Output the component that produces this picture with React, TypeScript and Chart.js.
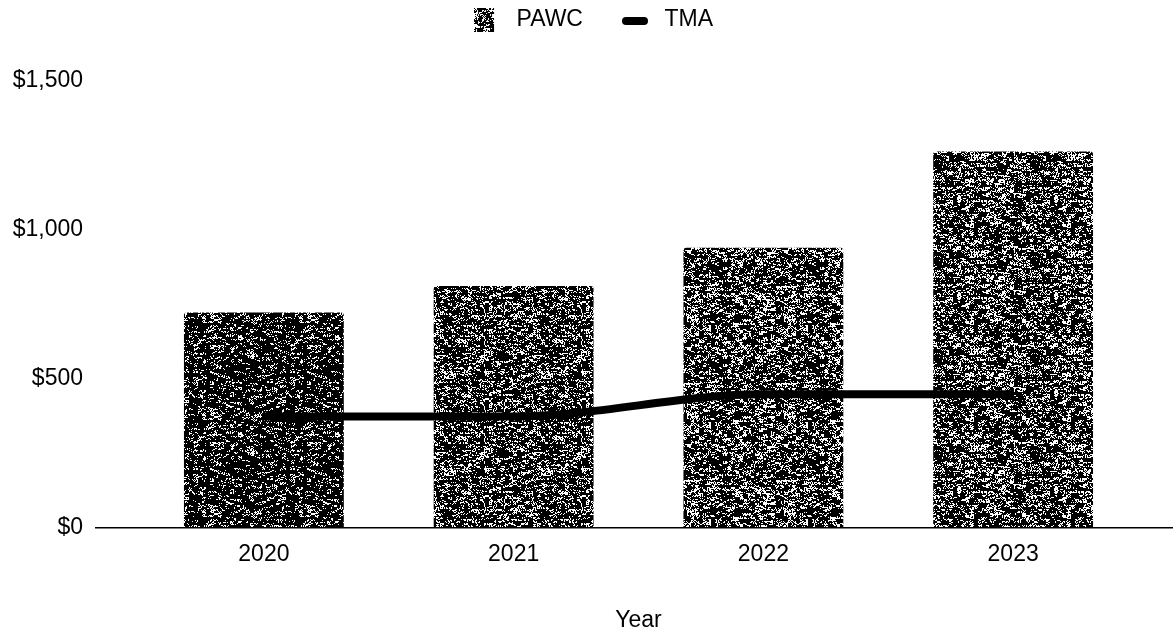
import React, { useEffect, useRef } from 'react';
import { Chart, registerables } from 'chart.js';

Chart.register(...registerables);

const years = ['2020', '2021', '2022', '2023'];
const pawcValues = [723, 812, 940, 1263];
const tmaValues = [374, 374, 448, 448];
const yTickValues = [0, 500, 1000, 1500];
const seriesNames = ['PAWC', 'TMA'];
const xTitle = 'Year';

const barDensity = [0.82, 0.72, 0.7, 0.72];

function hash(x: number, y: number, seed: number) {
  let h = (Math.imul(x, 374761393) + Math.imul(y, 668265263) + Math.imul(seed, 1442695041)) | 0;
  h = Math.imul(h ^ (h >>> 13), 1274126177);
  h = h ^ (h >>> 16);
  return (h >>> 0) / 4294967296;
}

function makeTexture(density: number, seed: number, w = 97, h = 97) {
  const c = document.createElement('canvas');
  c.width = w;
  c.height = h;
  const ctx = c.getContext('2d')!;
  const img = ctx.createImageData(w, h);
  const t = density <= 0.5 ? Math.sqrt(density / 2) : 1 - Math.sqrt((1 - density) / 2);
  for (let y = 0; y < h; y++) {
    for (let x = 0; x < w; x++) {
      const v = 0.5 * hash(x, y, seed) + 0.5 * hash(x >> 2, y >> 1, seed + 7);
      const c0 = v < t ? 0 : 255;
      const i = (y * w + x) * 4;
      img.data[i] = c0;
      img.data[i + 1] = c0;
      img.data[i + 2] = c0;
      img.data[i + 3] = 255;
    }
  }
  ctx.putImageData(img, 0, 0);
  return c;
}

export default function App() {
  const ref = useRef<HTMLCanvasElement | null>(null);

  useEffect(() => {
    if (!ref.current) return;
    Chart.defaults.font.family = '"Liberation Sans", Arial, sans-serif';
    Chart.defaults.color = '#000';

    const patterns = barDensity.map((d, i) => {
      const tex = makeTexture(d, 11 + i * 5);
      return ref.current!.getContext('2d')!.createPattern(tex, 'repeat')!;
    });

    // legend icons
    const pawcIcon = document.createElement('canvas');
    pawcIcon.width = 31;
    pawcIcon.height = 24;
    {
      const ictx = pawcIcon.getContext('2d')!;
      const tex = makeTexture(0.65, 3, 20, 24);
      ictx.drawImage(tex, 0, 0);
    }
    const tmaIcon = document.createElement('canvas');
    tmaIcon.width = 31;
    tmaIcon.height = 24;
    {
      const ictx = tmaIcon.getContext('2d')!;
      ictx.strokeStyle = '#000';
      ictx.lineWidth = 8;
      ictx.lineCap = 'round';
      ictx.beginPath();
      ictx.moveTo(4, 13);
      ictx.lineTo(22, 13);
      ictx.stroke();
    }

    const legendSpacer = {
      id: 'legendSpacer',
      beforeLayout(chart: any) {
        const lg = chart.legend;
        if (lg && !lg._spacerPatched) {
          const origFit = lg.fit;
          lg.fit = function () {
            origFit.call(this);
            this.height += 39.5;
          };
          const origDraw = lg.draw;
          lg.draw = function () {
            const c = this.ctx;
            c.save();
            c.translate(19.5, 0);
            origDraw.call(this);
            c.restore();
          };
          lg._spacerPatched = true;
        }
      },
    };

    const baseline = {
      id: 'baseline',
      afterDatasetsDraw(chart: any) {
        const { ctx, chartArea, scales } = chart;
        const y = scales.y.getPixelForValue(0);
        ctx.save();
        ctx.strokeStyle = '#000';
        ctx.lineWidth = 1.6;
        ctx.beginPath();
        ctx.moveTo(chartArea.left - 44, y);
        ctx.lineTo(chart.width, y);
        ctx.stroke();
        ctx.restore();
      },
    };

    const chart = new Chart(ref.current, {
      type: 'bar',
      data: {
        labels: years,
        datasets: [
          {
            type: 'bar',
            label: seriesNames[0],
            data: pawcValues,
            backgroundColor: patterns as any,
            borderWidth: 0,
            borderRadius: 3,
            categoryPercentage: 0.8,
            barPercentage: 0.8,
            order: 1,
          },
          {
            type: 'line',
            label: seriesNames[1],
            data: tmaValues,
            borderColor: '#000',
            backgroundColor: '#000',
            borderWidth: 8,
            pointRadius: 0,
            cubicInterpolationMode: 'monotone',
            order: 0,
          } as any,
        ],
      },
      options: {
        animation: false,
        responsive: true,
        maintainAspectRatio: false,
        layout: { padding: { left: 10, right: 35, top: -30.5, bottom: 1 } },
        plugins: {
          tooltip: { enabled: false },
          legend: {
            position: 'top',
            labels: {
              color: '#000',
              font: { size: 23 },
              usePointStyle: true,
              pointStyleWidth: 31,
              padding: 39,
              generateLabels: (chart: any) => {
                const items = (Chart.defaults.plugins.legend.labels as any).generateLabels(chart);
                items.sort((a: any, b: any) => a.datasetIndex - b.datasetIndex);
                items.forEach((it: any) => {
                  it.pointStyle = it.datasetIndex === 0 ? pawcIcon : tmaIcon;
                });
                return items;
              },
            },
          },
        },
        scales: {
          x: {
            grid: { display: false, drawTicks: false },
            border: { display: false },
            ticks: { padding: 13, color: '#000', font: { size: 23 } },
            title: {
              display: true,
              text: xTitle,
              color: '#000',
              font: { size: 23 },
              padding: { top: 25, bottom: 0 },
            },
          },
          y: {
            min: yTickValues[0],
            max: yTickValues[yTickValues.length - 1],
            grid: { display: false, drawTicks: false },
            border: { display: false },
            afterBuildTicks: (s: any) => {
              s.ticks = yTickValues.map((v) => ({ value: v }));
            },
            afterFit: (s: any) => {
              s.width = 129;
            },
            ticks: {
              padding: 56,
              color: '#000',
              font: { size: 23 },
              callback: (v: any) => '$' + Number(v).toLocaleString('en-US'),
            },
          },
        },
      },
      plugins: [legendSpacer, baseline],
    });

    return () => chart.destroy();
  }, []);

  return (
    <div
      style={{
        position: 'absolute',
        left: 0,
        top: 0,
        width: 1173,
        height: 635,
        background: '#fff',
      }}
    >
      <canvas ref={ref} />
    </div>
  );
}
